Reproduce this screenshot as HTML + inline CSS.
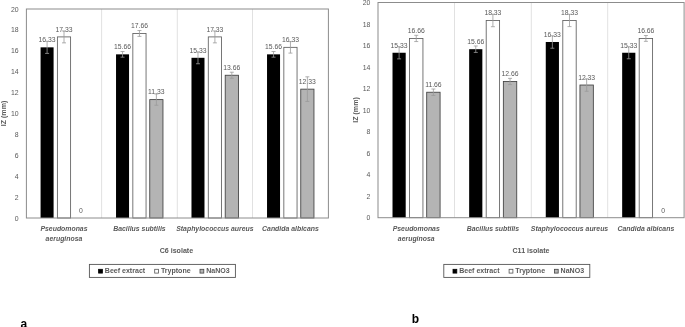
<!DOCTYPE html>
<html><head><meta charset="utf-8"><style>
html,body{margin:0;padding:0;background:#fff;}
body{width:685px;height:327px;overflow:hidden;}
svg{display:block;font-family:"Liberation Sans", sans-serif;will-change:transform;}
</style></head><body>
<svg width="685" height="327" viewBox="0 0 685 327">
<rect width="685" height="327" fill="#fff"/>
<line x1="101.60" y1="9" x2="101.60" y2="218" stroke="#d9d9d9" stroke-width="0.8"/>
<line x1="177.30" y1="9" x2="177.30" y2="218" stroke="#d9d9d9" stroke-width="0.8"/>
<line x1="252.50" y1="9" x2="252.50" y2="218" stroke="#d9d9d9" stroke-width="0.8"/>
<rect x="40.58" y="47.35" width="13.01" height="170.65" fill="#000"/>
<text x="47.09" y="42.15" font-size="6.8" fill="#595959" text-anchor="middle">16.33</text>
<path d="M47.09,41.29V53.41M45.09,41.29H49.09M45.09,53.41H49.09" stroke="#9a9a9a" stroke-width="0.8" fill="none"/>
<rect x="57.39" y="36.90" width="13.21" height="181.10" fill="#ffffff" stroke="#5f5f5f" stroke-width="0.85"/>
<text x="64.00" y="31.70" font-size="6.8" fill="#595959" text-anchor="middle">17.33</text>
<path d="M64.00,30.95V42.86M62.00,30.95H66.00M62.00,42.86H66.00" stroke="#9a9a9a" stroke-width="0.8" fill="none"/>
<text x="80.91" y="212.80" font-size="6.8" fill="#595959" text-anchor="middle">0</text>
<rect x="116.03" y="54.35" width="13.01" height="163.65" fill="#000"/>
<text x="122.54" y="49.15" font-size="6.8" fill="#595959" text-anchor="middle">15.66</text>
<path d="M122.54,51.53V57.17M120.54,51.53H124.54M120.54,57.17H124.54" stroke="#9a9a9a" stroke-width="0.8" fill="none"/>
<rect x="132.84" y="33.45" width="13.21" height="184.55" fill="#ffffff" stroke="#5f5f5f" stroke-width="0.85"/>
<text x="139.45" y="28.25" font-size="6.8" fill="#595959" text-anchor="middle">17.66</text>
<path d="M139.45,30.53V36.38M137.45,30.53H141.45M137.45,36.38H141.45" stroke="#9a9a9a" stroke-width="0.8" fill="none"/>
<rect x="149.76" y="99.60" width="13.21" height="118.40" fill="#b4b4b4" stroke="#404040" stroke-width="0.85"/>
<text x="156.36" y="94.40" font-size="6.8" fill="#595959" text-anchor="middle">11.33</text>
<path d="M156.36,93.96V105.24M154.36,93.96H158.36M154.36,105.24H158.36" stroke="#9a9a9a" stroke-width="0.8" fill="none"/>
<rect x="191.48" y="57.80" width="13.01" height="160.20" fill="#000"/>
<text x="197.99" y="52.60" font-size="6.8" fill="#595959" text-anchor="middle">15.33</text>
<path d="M197.99,51.85V63.76M195.99,51.85H199.99M195.99,63.76H199.99" stroke="#9a9a9a" stroke-width="0.8" fill="none"/>
<rect x="208.29" y="36.90" width="13.21" height="181.10" fill="#ffffff" stroke="#5f5f5f" stroke-width="0.85"/>
<text x="214.90" y="31.70" font-size="6.8" fill="#595959" text-anchor="middle">17.33</text>
<path d="M214.90,30.95V42.86M212.90,30.95H216.90M212.90,42.86H216.90" stroke="#9a9a9a" stroke-width="0.8" fill="none"/>
<rect x="225.21" y="75.25" width="13.21" height="142.75" fill="#b4b4b4" stroke="#404040" stroke-width="0.85"/>
<text x="231.81" y="70.05" font-size="6.8" fill="#595959" text-anchor="middle">13.66</text>
<path d="M231.81,72.22V78.28M229.81,72.22H233.81M229.81,78.28H233.81" stroke="#9a9a9a" stroke-width="0.8" fill="none"/>
<rect x="267.03" y="54.35" width="13.01" height="163.65" fill="#000"/>
<text x="273.54" y="49.15" font-size="6.8" fill="#595959" text-anchor="middle">15.66</text>
<path d="M273.54,51.53V57.17M271.54,51.53H275.54M271.54,57.17H275.54" stroke="#9a9a9a" stroke-width="0.8" fill="none"/>
<rect x="283.84" y="47.35" width="13.21" height="170.65" fill="#ffffff" stroke="#5f5f5f" stroke-width="0.85"/>
<text x="290.45" y="42.15" font-size="6.8" fill="#595959" text-anchor="middle">16.33</text>
<path d="M290.45,41.60V53.10M288.45,41.60H292.45M288.45,53.10H292.45" stroke="#9a9a9a" stroke-width="0.8" fill="none"/>
<rect x="300.76" y="89.15" width="13.21" height="128.85" fill="#b4b4b4" stroke="#404040" stroke-width="0.85"/>
<text x="307.36" y="83.95" font-size="6.8" fill="#595959" text-anchor="middle">12.33</text>
<path d="M307.36,76.82V101.48M305.36,76.82H309.36M305.36,101.48H309.36" stroke="#9a9a9a" stroke-width="0.8" fill="none"/>
<rect x="26.4" y="9" width="302.0" height="209" fill="none" stroke="#8c8c8c" stroke-width="1"/>
<text x="18.6" y="220.50" font-size="6.9" fill="#595959" text-anchor="end">0</text>
<text x="18.6" y="199.60" font-size="6.9" fill="#595959" text-anchor="end">2</text>
<text x="18.6" y="178.70" font-size="6.9" fill="#595959" text-anchor="end">4</text>
<text x="18.6" y="157.80" font-size="6.9" fill="#595959" text-anchor="end">6</text>
<text x="18.6" y="136.90" font-size="6.9" fill="#595959" text-anchor="end">8</text>
<text x="18.6" y="116.00" font-size="6.9" fill="#595959" text-anchor="end">10</text>
<text x="18.6" y="95.10" font-size="6.9" fill="#595959" text-anchor="end">12</text>
<text x="18.6" y="74.20" font-size="6.9" fill="#595959" text-anchor="end">14</text>
<text x="18.6" y="53.30" font-size="6.9" fill="#595959" text-anchor="end">16</text>
<text x="18.6" y="32.40" font-size="6.9" fill="#595959" text-anchor="end">18</text>
<text x="18.6" y="11.50" font-size="6.9" fill="#595959" text-anchor="end">20</text>
<text transform="translate(4.3,113.5) rotate(-90)" x="0" y="0" font-size="7.1" font-weight="bold" fill="#595959" text-anchor="middle" dominant-baseline="central">IZ (mm)</text>
<text x="64.00" y="231.00" font-size="6.9" font-style="italic" font-weight="bold" fill="#595959" text-anchor="middle">Pseudomonas</text>
<text x="64.00" y="240.70" font-size="6.9" font-style="italic" font-weight="bold" fill="#595959" text-anchor="middle">aeruginosa</text>
<text x="139.45" y="231.00" font-size="6.9" font-style="italic" font-weight="bold" fill="#595959" text-anchor="middle">Bacillus subtilis</text>
<text x="214.90" y="231.00" font-size="6.9" font-style="italic" font-weight="bold" fill="#595959" text-anchor="middle">Staphylococcus aureus</text>
<text x="290.45" y="231.00" font-size="6.9" font-style="italic" font-weight="bold" fill="#595959" text-anchor="middle">Candida albicans</text>
<text x="176.40" y="253" font-size="7.1" font-weight="bold" fill="#595959" text-anchor="middle">C6 isolate</text>
<rect x="89.4" y="264.4" width="146" height="13" fill="#fff" stroke="#555" stroke-width="0.9"/>
<rect x="98.60" y="269.30" width="3.8" height="3.8" fill="#000" stroke="#000" stroke-width="0.8"/>
<text x="104.80" y="273.00" font-size="7.05" font-weight="bold" fill="#595959">Beef extract</text>
<rect x="154.70" y="269.30" width="3.8" height="3.8" fill="#fff" stroke="#555" stroke-width="0.8"/>
<text x="160.90" y="273.00" font-size="7.05" font-weight="bold" fill="#595959">Tryptone</text>
<rect x="200.00" y="269.30" width="3.8" height="3.8" fill="#b4b4b4" stroke="#444" stroke-width="0.8"/>
<text x="206.20" y="273.00" font-size="7.05" font-weight="bold" fill="#595959">NaNO3</text>
<text x="20.6" y="328.1" font-size="12" font-weight="bold" fill="#000">a</text>
<line x1="454.50" y1="2.5" x2="454.50" y2="217.7" stroke="#d9d9d9" stroke-width="0.8"/>
<line x1="531.30" y1="2.5" x2="531.30" y2="217.7" stroke="#d9d9d9" stroke-width="0.8"/>
<line x1="607.70" y1="2.5" x2="607.70" y2="217.7" stroke="#d9d9d9" stroke-width="0.8"/>
<rect x="392.51" y="52.75" width="13.19" height="164.95" fill="#000"/>
<text x="399.11" y="47.55" font-size="6.8" fill="#595959" text-anchor="middle">15.33</text>
<path d="M399.11,46.62V58.88M397.11,46.62H401.11M397.11,58.88H401.11" stroke="#9a9a9a" stroke-width="0.8" fill="none"/>
<rect x="409.55" y="38.44" width="13.39" height="179.26" fill="#ffffff" stroke="#5f5f5f" stroke-width="0.85"/>
<text x="416.25" y="33.24" font-size="6.8" fill="#595959" text-anchor="middle">16.66</text>
<path d="M416.25,35.32V41.56M414.25,35.32H418.25M414.25,41.56H418.25" stroke="#9a9a9a" stroke-width="0.8" fill="none"/>
<rect x="426.70" y="92.24" width="13.39" height="125.46" fill="#b4b4b4" stroke="#404040" stroke-width="0.85"/>
<text x="433.39" y="87.04" font-size="6.8" fill="#595959" text-anchor="middle">11.66</text>
<path d="M433.39,89.01V95.47M431.39,89.01H435.39M431.39,95.47H435.39" stroke="#9a9a9a" stroke-width="0.8" fill="none"/>
<rect x="469.16" y="49.20" width="13.19" height="168.50" fill="#000"/>
<text x="475.76" y="44.00" font-size="6.8" fill="#595959" text-anchor="middle">15.66</text>
<path d="M475.76,45.97V52.43M473.76,45.97H477.76M473.76,52.43H477.76" stroke="#9a9a9a" stroke-width="0.8" fill="none"/>
<rect x="486.20" y="20.47" width="13.39" height="197.23" fill="#ffffff" stroke="#5f5f5f" stroke-width="0.85"/>
<text x="492.90" y="15.27" font-size="6.8" fill="#595959" text-anchor="middle">18.33</text>
<path d="M492.90,14.23V26.71M490.90,14.23H494.90M490.90,26.71H494.90" stroke="#9a9a9a" stroke-width="0.8" fill="none"/>
<rect x="503.35" y="81.48" width="13.39" height="136.22" fill="#b4b4b4" stroke="#404040" stroke-width="0.85"/>
<text x="510.04" y="76.28" font-size="6.8" fill="#595959" text-anchor="middle">12.66</text>
<path d="M510.04,78.36V84.60M508.04,78.36H512.04M508.04,84.60H512.04" stroke="#9a9a9a" stroke-width="0.8" fill="none"/>
<rect x="545.76" y="41.99" width="13.19" height="175.71" fill="#000"/>
<text x="552.36" y="36.79" font-size="6.8" fill="#595959" text-anchor="middle">16.33</text>
<path d="M552.36,35.75V48.23M550.36,35.75H554.36M550.36,48.23H554.36" stroke="#9a9a9a" stroke-width="0.8" fill="none"/>
<rect x="562.80" y="20.47" width="13.39" height="197.23" fill="#ffffff" stroke="#5f5f5f" stroke-width="0.85"/>
<text x="569.50" y="15.27" font-size="6.8" fill="#595959" text-anchor="middle">18.33</text>
<path d="M569.50,14.34V26.60M567.50,14.34H571.50M567.50,26.60H571.50" stroke="#9a9a9a" stroke-width="0.8" fill="none"/>
<rect x="579.95" y="85.03" width="13.39" height="132.67" fill="#b4b4b4" stroke="#404040" stroke-width="0.85"/>
<text x="586.64" y="79.83" font-size="6.8" fill="#595959" text-anchor="middle">12.33</text>
<path d="M586.64,78.79V91.27M584.64,78.79H588.64M584.64,91.27H588.64" stroke="#9a9a9a" stroke-width="0.8" fill="none"/>
<rect x="622.16" y="52.75" width="13.19" height="164.95" fill="#000"/>
<text x="628.76" y="47.55" font-size="6.8" fill="#595959" text-anchor="middle">15.33</text>
<path d="M628.76,46.72V58.77M626.76,46.72H630.76M626.76,58.77H630.76" stroke="#9a9a9a" stroke-width="0.8" fill="none"/>
<rect x="639.20" y="38.44" width="13.39" height="179.26" fill="#ffffff" stroke="#5f5f5f" stroke-width="0.85"/>
<text x="645.90" y="33.24" font-size="6.8" fill="#595959" text-anchor="middle">16.66</text>
<path d="M645.90,35.53V41.34M643.90,35.53H647.90M643.90,41.34H647.90" stroke="#9a9a9a" stroke-width="0.8" fill="none"/>
<text x="663.04" y="212.50" font-size="6.8" fill="#595959" text-anchor="middle">0</text>
<rect x="378" y="2.5" width="306.1" height="215.2" fill="none" stroke="#8c8c8c" stroke-width="1"/>
<text x="370.3" y="220.20" font-size="6.9" fill="#595959" text-anchor="end">0</text>
<text x="370.3" y="198.68" font-size="6.9" fill="#595959" text-anchor="end">2</text>
<text x="370.3" y="177.16" font-size="6.9" fill="#595959" text-anchor="end">4</text>
<text x="370.3" y="155.64" font-size="6.9" fill="#595959" text-anchor="end">6</text>
<text x="370.3" y="134.12" font-size="6.9" fill="#595959" text-anchor="end">8</text>
<text x="370.3" y="112.60" font-size="6.9" fill="#595959" text-anchor="end">10</text>
<text x="370.3" y="91.08" font-size="6.9" fill="#595959" text-anchor="end">12</text>
<text x="370.3" y="69.56" font-size="6.9" fill="#595959" text-anchor="end">14</text>
<text x="370.3" y="48.04" font-size="6.9" fill="#595959" text-anchor="end">16</text>
<text x="370.3" y="26.52" font-size="6.9" fill="#595959" text-anchor="end">18</text>
<text x="370.3" y="5.00" font-size="6.9" fill="#595959" text-anchor="end">20</text>
<text transform="translate(356,110) rotate(-90)" x="0" y="0" font-size="7.1" font-weight="bold" fill="#595959" text-anchor="middle" dominant-baseline="central">IZ (mm)</text>
<text x="416.25" y="231.00" font-size="6.9" font-style="italic" font-weight="bold" fill="#595959" text-anchor="middle">Pseudomonas</text>
<text x="416.25" y="240.70" font-size="6.9" font-style="italic" font-weight="bold" fill="#595959" text-anchor="middle">aeruginosa</text>
<text x="492.90" y="231.00" font-size="6.9" font-style="italic" font-weight="bold" fill="#595959" text-anchor="middle">Bacillus subtilis</text>
<text x="569.50" y="231.00" font-size="6.9" font-style="italic" font-weight="bold" fill="#595959" text-anchor="middle">Staphylococcus aureus</text>
<text x="645.90" y="231.00" font-size="6.9" font-style="italic" font-weight="bold" fill="#595959" text-anchor="middle">Candida albicans</text>
<text x="531.05" y="253" font-size="7.1" font-weight="bold" fill="#595959" text-anchor="middle">C11 isolate</text>
<rect x="443.8" y="264.4" width="146" height="13" fill="#fff" stroke="#555" stroke-width="0.9"/>
<rect x="453.00" y="269.30" width="3.8" height="3.8" fill="#000" stroke="#000" stroke-width="0.8"/>
<text x="459.20" y="273.00" font-size="7.05" font-weight="bold" fill="#595959">Beef extract</text>
<rect x="509.10" y="269.30" width="3.8" height="3.8" fill="#fff" stroke="#555" stroke-width="0.8"/>
<text x="515.30" y="273.00" font-size="7.05" font-weight="bold" fill="#595959">Tryptone</text>
<rect x="554.40" y="269.30" width="3.8" height="3.8" fill="#b4b4b4" stroke="#444" stroke-width="0.8"/>
<text x="560.60" y="273.00" font-size="7.05" font-weight="bold" fill="#595959">NaNO3</text>
<text x="411.8" y="322.6" font-size="12" font-weight="bold" fill="#000">b</text>
</svg>
</body></html>
